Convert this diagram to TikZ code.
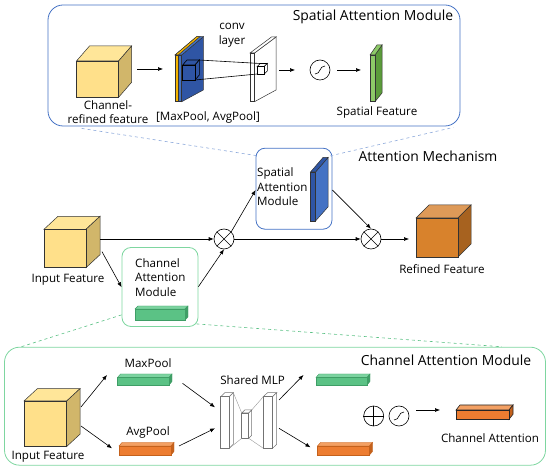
\documentclass[tikz,border=0pt]{standalone}
\usepackage{fontspec}
\setmainfont{Open Sans}
\usetikzlibrary{positioning, arrows.meta, calc}

\definecolor{boxblue}{HTML}{4472C4}
\definecolor{dashblue}{HTML}{8EAADB}
\definecolor{boxgreen}{HTML}{7ED6A0}
\definecolor{dashgreen}{HTML}{5CC185}
\definecolor{yelF}{HTML}{FFE08A}
\definecolor{yelT}{HTML}{FFE699}
\definecolor{yelS}{HTML}{D1B66A}
\definecolor{orF}{HTML}{D8822C}
\definecolor{orT}{HTML}{DE9A58}
\definecolor{orS}{HTML}{A7621F}
\definecolor{blueD}{HTML}{2F55A4}
\definecolor{blueL}{HTML}{4472C4}
\definecolor{goldS}{HTML}{F4B400}
\definecolor{grnD}{HTML}{5B9B3B}
\definecolor{grnL}{HTML}{8DC968}
\definecolor{barG}{HTML}{5BC285}
\definecolor{barGT}{HTML}{7CD3A0}
\definecolor{barGS}{HTML}{3F9E66}
\definecolor{barO}{HTML}{ED7D31}
\definecolor{barOT}{HTML}{F3A063}
\definecolor{barOS}{HTML}{C4611C}

% 3d block: x1,y1 (front top left), x2,y2 (front bottom right), dx,dy, front, top, side
\newcommand{\blockthree}[9]{%
  \draw[blkline, fill=#8] (#1,#2) -- ({#1+#5},{#2-#6}) -- ({#3+#5},{#2-#6}) -- (#3,#2) -- cycle;
  \draw[blkline, fill=#9] (#3,#2) -- ({#3+#5},{#2-#6}) -- ({#3+#5},{#4-#6}) -- (#3,#4) -- cycle;
  \draw[blkline, fill=#7] (#1,#2) rectangle (#3,#4);
}
% thin plate: x1,x2 (front strip), x3 (back), front top/bottom, back top/bottom, strip, face
\newcommand{\plate}[9]{%
  \draw[blkline, fill=#9] (#2,#4) -- (#3,#6) -- (#3,#7) -- (#2,#5) -- cycle;
  \draw[blkline, fill=#8] (#1,#4) -- (#2,#4) -- (#3,#6) -- ({#3-#2+#1},#6) -- cycle;
  \draw[blkline, fill=#8] (#1,#4) rectangle (#2,#5);
}

\begin{document}
\begin{tikzpicture}[x=1pt, y=-1pt,
    blkline/.style={draw=black!80, line width=0.5pt},
    arr/.style={-{Latex[length=5pt,width=4pt]}, line width=0.6pt},
    lbl/.style={font=\fontsize{11.6}{14.5}\selectfont, inner sep=0pt},
    ttl/.style={font=\fontsize{13.9}{16}\selectfont, inner sep=0pt},
    opc/.style={circle, draw, line width=0.6pt, minimum size=20pt, inner sep=0pt}]

    \useasboundingbox (0,0) rectangle (550,470);

    % Module frames
    \node[draw=boxblue, line width=0.8pt, rounded corners=15pt, minimum width=412pt, minimum height=121pt] (satop) at (254,65.5) {};
    \node[draw=boxgreen, line width=0.8pt, rounded corners=15pt, minimum width=541pt, minimum height=118pt] (cabot) at (275,406.2) {};
    \node[draw=boxblue, line width=0.8pt, rounded corners=9pt, minimum width=76pt, minimum height=81pt] (sam) at (294,188.7) {};
    \node[draw=boxgreen, line width=0.8pt, rounded corners=9pt, minimum width=76pt, minimum height=79pt] (cam) at (160,287) {};

    % Zoom lines
    \draw[dashblue, dashed, line width=0.6pt] ([xshift=34pt,yshift=-2pt]satop.south west) -- ([xshift=2pt,yshift=-8pt]sam.north west);
    \draw[dashblue, dashed, line width=0.6pt] ([xshift=-2pt,yshift=-8pt]sam.north east) -- ([xshift=-7pt,yshift=-1pt]satop.south east);
    \draw[dashgreen, dashed, line width=0.6pt] ([yshift=12pt]cam.south west) -- ([xshift=17pt]cabot.north west);
    \draw[dashgreen, dashed, line width=0.6pt] ([xshift=-2pt,yshift=3pt]cam.south east) -- ([xshift=-44pt]cabot.north east);

    % ---- Spatial attention module ----
    \node[ttl] (satitle) at (373,17) {Spatial Attention Module};
    \blockthree{76.5}{61}{118.6}{97.3}{13}{15}{yelF}{yelT}{yelS}
    \node[lbl, align=center] (crf) at (108,112) {Channel-\\refined feature};
    \coordinate (crfr) at (137,69);
    \coordinate (poolin) at (163,69);
    \draw[arr] (crfr) -- (poolin);

    % pooled maps
    \plate{175}{181.7}{203.3}{55}{101.7}{36.7}{90}{blueL}{blueD}
    \draw[blkline, fill=goldS] (175,55) -- (178.3,55) -- (199.9,36.7) -- (196.6,36.7) -- cycle;
    \draw[blkline, fill=goldS] (175,55) rectangle (178.3,101.7);
    \node[lbl] (pool) at (208,117.3) {[MaxPool, AvgPool]};

    % conv layer
    \plate{250}{254.5}{276}{53}{101.7}{37}{90}{white}{white}
    \node[lbl, align=center] (conv) at (232,35.3) {conv\\layer};
    \begin{scope}[blkline/.style={draw=black, line width=0.6pt}]
      \blockthree{182.7}{65}{195}{80}{4.3}{5}{blueD}{blueD}{blueD}
      \blockthree{257.3}{66.5}{264.3}{74}{3}{3}{white}{white}{white}
    \end{scope}
    \coordinate (kta) at (199,60);
    \coordinate (ktb) at (195,80);
    \coordinate (kha) at (260.3,63.5);
    \coordinate (khb) at (257.3,74);
    \draw[line width=0.6pt] (kta) -- (kha);
    \draw[line width=0.6pt] (ktb) -- (khb);

    % sigmoid and spatial feature
    \node[opc] (sg1) at (320,70) {};
    \draw[line width=0.6pt] ([shift={(-5,4)}]sg1.center) .. controls ([shift={(1,4)}]sg1.center) and ([shift={(-1,-4)}]sg1.center) .. ([shift={(5,-4)}]sg1.center);
    \coordinate (convr) at (279,70);
    \coordinate (sgin) at (295,70);
    \draw[arr] (convr) -- (sgin);
    \coordinate (sfin) at (361,70);
    \draw[arr] (sg1.east) ++(7,0) coordinate (sgout) (sgout) -- (sfin);
    \plate{370}{375}{382}{55}{101.7}{45}{93}{grnL}{grnD}
    \node[lbl] (sfeat) at (377,112.7) {Spatial Feature};

    % ---- Attention mechanism ----
    \node[ttl] (amtitle) at (428,156.7) {Attention Mechanism};
    \blockthree{44}{229.3}{86}{267.7}{14}{13}{yelF}{yelT}{yelS}
    \node[lbl] (infeat) at (68,279.3) {Input Feature};
    \node[lbl, align=left, anchor=west] (samtxt) at (257,186.7) {Spatial\\Attention\\Module};
    \plate{310.5}{315.5}{328}{172}{221}{157.5}{207}{blueD}{blueL}
    \node[lbl, align=left, anchor=west] (camtxt) at (135,277.3) {Channel\\Attention\\Module};
    \begin{scope}[blkline/.style={draw=barGS, line width=0.4pt}]
      \blockthree{135}{309}{185}{320}{3}{3}{barG}{barGT}{barGS}
    \end{scope}
    \node[opc] (m1) at (224,239) {};
    \draw[line width=0.6pt] (m1.north west) -- (m1.south east) (m1.north east) -- (m1.south west);
    \node[opc] (m2) at (371,239) {};
    \draw[line width=0.6pt] (m2.north west) -- (m2.south east) (m2.north east) -- (m2.south west);
    \blockthree{416}{218}{458}{257}{13}{13}{orF}{orT}{orS}
    \node[lbl] (refeat) at (442,269.3) {Refined Feature};

    \coordinate (inr) at (100,239);
    \coordinate (inb) at (102,251.7);
    \coordinate (refl) at (409,239);
    \draw[arr] (inr) -- (m1.west);
    \draw[arr] (inb) -- ([yshift=-0.3pt]cam.west);
    \draw[arr] ([yshift=0.3pt]cam.east) -- (m1.south);
    \draw[arr] (m1.north east) -- ([yshift=-1.3pt]sam.west);
    \draw[arr] (m1.east) -- (m2.west);
    \draw[arr] ([yshift=-1.3pt]sam.east) -- (m2.north);
    \draw[arr] (m2.east) -- (refl);

    % ---- Channel attention module ----
    \node[ttl] (catitle) at (446,360) {Channel Attention Module};
    \blockthree{24}{401}{66.7}{446.5}{13.3}{12.3}{yelF}{yelT}{yelS}
    \node[lbl] (infeat2) at (48,456.5) {Input Feature};
    \node[lbl] (maxp) at (148,362.7) {MaxPool};
    \node[lbl] (avgp) at (148,432.7) {AvgPool};
    \node[lbl] (mlp) at (252.6,380) {Shared MLP};
    \node[lbl] (chatt) at (490,438.3) {Channel Attention};
    \begin{scope}[blkline/.style={draw=barGS, line width=0.4pt}]
      \blockthree{117.5}{377.5}{169}{385}{3}{3.5}{barG}{barGT}{barGS}
      \blockthree{316}{377.5}{367}{385}{3}{3.5}{barG}{barGT}{barGS}
    \end{scope}
    \begin{scope}[blkline/.style={draw=barOS, line width=0.4pt}]
      \blockthree{119}{446}{171}{455}{3}{3.5}{barO}{barOT}{barOS}
      \blockthree{317.5}{446}{369.5}{455}{3}{3.5}{barO}{barOT}{barOS}
    \end{scope}
    \begin{scope}[blkline/.style={draw=black!85, line width=0.6pt}]
      \blockthree{456}{410}{509}{419.3}{4}{5}{barO}{barOT}{barOS}
    \end{scope}

    % shared MLP
    \begin{scope}[blkline/.style={draw=black!55, line width=0.5pt}]
      \blockthree{220.7}{396.7}{229.3}{448.3}{4}{4}{white}{white}{white}
      \blockthree{241.7}{413}{248.7}{438.3}{3}{3}{white}{white}{white}
      \blockthree{263.3}{396.7}{272.5}{448.3}{4.2}{4}{white}{white}{white}
    \end{scope}
    \draw[black!40, line width=0.4pt] (233.3,392.7) -- (241.7,413) (229.3,448.3) -- (241.7,438.3)
        (251.7,410) -- (263.3,396.7) (248.7,438.3) -- (263.3,448.3);

    % plus, sigmoid
    \node[opc] (pl) at (373.7,416) {};
    \draw[line width=0.6pt] (pl.north) -- (pl.south) (pl.west) -- (pl.east);
    \node[opc] (sg2) at (399,416) {};
    \draw[line width=0.6pt] ([shift={(-5,4)}]sg2.center) .. controls ([shift={(1,4)}]sg2.center) and ([shift={(-1,-4)}]sg2.center) .. ([shift={(5,-4)}]sg2.center);

    \coordinate (cb1) at (81,407);
    \coordinate (cb2) at (81,426);
    \coordinate (mxl) at (107,375);
    \coordinate (avl) at (112,448.3);
    \coordinate (mxr) at (182.5,383.3);
    \coordinate (avr) at (179,446);
    \coordinate (mlpa) at (215,407.3);
    \coordinate (mlpb) at (215,428.3);
    \coordinate (mlpc) at (279,400);
    \coordinate (mlpd) at (279,428.3);
    \coordinate (gbl) at (303.5,375);
    \coordinate (obl) at (310.5,447.3);
    \coordinate (caout) at (416,410);
    \coordinate (cain) at (440,410);
    \draw[arr] (cb1) -- (mxl);
    \draw[arr] (cb2) -- (avl);
    \draw[arr] (mxr) -- (mlpa);
    \draw[arr] (avr) -- (mlpb);
    \draw[arr] (mlpc) -- (gbl);
    \draw[arr] (mlpd) -- (obl);
    \draw[arr] (caout) -- (cain);

\end{tikzpicture}
\end{document}
